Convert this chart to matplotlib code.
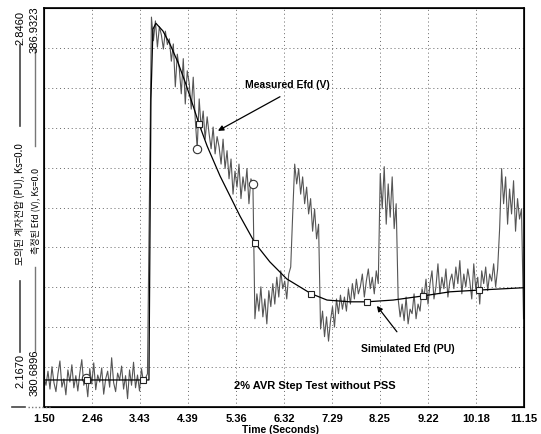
import numpy as np
import matplotlib.pyplot as plt
from matplotlib.lines import Line2D

# simulated Efd (PU)
sim_t = [1.50, 2.364, 3.490, 3.61, 3.65, 3.69, 3.75, 3.89, 4.03, 4.19, 4.35, 4.50,
         4.615, 4.78, 5.04, 5.44, 5.741, 6.04, 6.38, 6.866, 7.19, 7.65, 7.992,
         8.52, 9.117, 9.66, 10.243, 11.15]
sim_pu = [2.213, 2.213, 2.213, 2.213, 2.691, 2.810, 2.820, 2.807, 2.785, 2.754,
          2.717, 2.679, 2.649, 2.611, 2.560, 2.492, 2.446, 2.414, 2.385, 2.360,
          2.349, 2.346, 2.346, 2.349, 2.356, 2.363, 2.366, 2.370]
sim_marks = [1, 2, 12, 16, 19, 22, 24, 26]

# measured Efd (V), one sample every 0.04 s from 1.50 s
meas_t0 = 1.50
meas_dt = 0.04
meas_v = [
    # before the step
    381.16, 381.03, 381.25, 380.97, 381.32, 381.07, 380.93, 381.21, 381.41, 381.00,
    381.13, 380.88, 381.27, 381.08, 381.35, 380.99, 381.18, 380.94, 381.22, 381.43,
    381.03, 381.14, 380.85, 381.29, 381.05, 381.38, 380.96, 381.19, 381.08, 381.30,
    380.89, 381.13, 381.25, 381.00, 381.46, 381.07, 380.93, 381.22, 381.11, 381.33,
    380.97, 381.18, 380.82, 381.27, 381.03, 381.39, 380.99, 381.19, 380.94, 381.29,
    381.07, 381.14,
    # step
    381.21, 383.95,
    386.79, 386.42, 386.73, 386.32, 386.64, 386.51, 386.29, 386.57, 386.36,
    386.45, 386.10, 386.37, 385.70, 386.21, 385.98, 385.59,
    386.14, 385.43, 385.95, 385.75, 385.35, 385.85, 385.20, 384.73,
    385.51, 385.04, 385.32, 384.88, 385.23, 384.96, 384.73, 385.07,
    384.65, 384.92, 384.76, 384.49, 384.88, 384.42, 384.70, 384.26,
    384.57, 384.02, 384.38, 384.13, 384.49, 383.95, 384.29, 384.07, 384.42, 383.87,
    384.26, 384.18,
    # first drop
    382.07, 382.46, 382.19, 382.57, 382.10, 382.38, 381.99, 382.51, 382.26,
    382.62, 382.30, 382.72, 382.41, 382.82, 382.54, 382.66, 382.38, 382.77, 382.88,
    383.71,
    384.49, 384.18, 384.42, 384.02, 384.29, 383.87, 384.13, 383.71, 383.95, 383.44,
    383.79, 383.32, 383.55,
    381.91, 382.19, 381.79, 382.10, 381.72, 382.04, 382.26, 381.94, 382.38, 382.15,
    382.44, 382.22,
    382.41, 382.19, 382.54, 382.30, 382.62, 382.38, 382.69, 382.46, 382.57, 382.77,
    382.41, 382.66, 382.85, 382.54, 382.72, 382.46, 382.82, 382.62,
    384.34, 383.79, 384.45, 383.55, 384.18, 383.66, 384.29, 383.48, 383.87,
    382.38, 382.10, 382.30, 382.04, 382.41, 381.99, 382.22, 382.15, 382.46, 382.07,
    382.30, 382.19, 382.54,
    382.41, 382.69, 382.30, 382.62, 382.82, 382.38, 382.57, 382.93, 382.46, 382.72,
    382.54, 382.85, 382.41, 382.66, 382.77,
    382.54, 382.88, 382.62, 382.98, 382.46, 382.77, 382.57, 382.85, 382.66, 382.38,
    382.93, 382.54, 382.72, 382.30, 382.82, 382.62, 382.88, 382.51, 382.77, 382.66,
    382.93, 382.57, 382.85,
    383.48,
    384.42, 383.87, 384.29, 383.55, 384.10, 383.71, 384.23, 383.44, 383.95, 383.63,
    383.79, 382.07,
]
meas_marks = [21, 77, 105]

pu_lim = (2.1670, 2.8460)
v_lim = (380.6896, 386.9323)
t_lim = (1.50, 11.15)
t_labels = ["1.50", "2.46", "3.43", "4.39", "5.36", "6.32", "7.29", "8.25",
            "9.22", "10.18", "11.15"]

LAT = ['Liberation Sans Narrow', 'Liberation Sans', 'DejaVu Sans']
BOLD = ['Liberation Sans', 'DejaVu Sans']
KOR = ['Noto Sans CJK KR', 'DejaVu Sans']

meas_t = meas_t0 + meas_dt * np.arange(len(meas_v))

fig = plt.figure(figsize=(5.41, 4.35), dpi=100)
W, H = 541.0, 435.0
ax = fig.add_axes([44 / W, 1 - 408 / H, 480 / W, 399 / H])

# measured trace on the volt scale
ax.plot(meas_t, meas_v, color='#555555', lw=0.8, marker='o', ms=6,
        mfc='white', mec='#333333', mew=0.8, markevery=meas_marks)
ax.set_xlim(t_lim)
ax.set_ylim(v_lim)
ax.set_xticks(np.linspace(t_lim[0], t_lim[1], 11))
ax.set_xticklabels(t_labels, family=LAT, fontsize=8, fontweight='bold')
ax.set_yticks(np.linspace(v_lim[0], v_lim[1], 11))
ax.set_yticklabels([])
ax.tick_params(length=0, pad=4)
ax.grid(True, color='#666666', lw=0.7, ls=(0, (1, 3)))
for s in ax.spines.values():
    s.set_linewidth(1.2)
    s.set_color('black')

# simulated trace on the per-unit scale
ax2 = ax.twinx()
ax2.plot(sim_t, sim_pu, color='black', lw=0.9, marker='s', ms=5,
         mfc='white', mec='#222222', mew=0.8, markevery=sim_marks)
ax2.set_ylim(pu_lim)
ax2.set_yticks([])
ax2.set_xlim(t_lim)

ax2.text(6.385, 2.717, "Measured Efd (V)", family=BOLD, fontsize=7.5,
         fontweight='bold', ha='center', va='center')
ax2.annotate('', xy=(4.997, 2.637), xytext=(6.244, 2.695),
             arrowprops=dict(arrowstyle='-|>', color='black', lw=0.9,
                             mutation_scale=8, shrinkA=0, shrinkB=0))
ax2.text(8.817, 2.267, "Simulated Efd (PU)", family=BOLD, fontsize=7.5,
         fontweight='bold', ha='center', va='center')
ax2.annotate('', xy=(8.193, 2.339), xytext=(8.595, 2.295),
             arrowprops=dict(arrowstyle='-|>', color='black', lw=0.9,
                             mutation_scale=8, shrinkA=0, shrinkB=0))
ax2.text(6.947, 2.204, "2% AVR Step Test without PSS", family=BOLD,
         fontsize=8, fontweight='bold', ha='center', va='center')

fig.text(280 / W, 1 - 430 / H, "Time (Seconds)", family=BOLD, fontsize=7.5,
         fontweight='bold', ha='center', va='center')

# left side scale captions
def vtext(px, py, s, fam, size):
    fig.text(px / W, 1 - py / H, s, family=fam, fontsize=size, rotation=90,
             ha='center', va='center')

def vline(px, y0, y1, color, lw, ls='-'):
    fig.add_artist(Line2D([px / W, px / W], [1 - y0 / H, 1 - y1 / H],
                          transform=fig.transFigure, color=color, lw=lw, ls=ls))

vtext(20, 28, "2.8460", LAT, 8)
vline(20, 46, 127, '#444444', 1.2)
vtext(20, 204, "모의된 계자전압 (PU), Ks=0.0", KOR, 7)
vline(20, 282, 353, '#444444', 1.2)
vtext(20, 371, "2.1670", LAT, 8)

vtext(35, 30, "386.9323", LAT, 8)
vline(35, 50, 147, '#777777', 1.0)
vtext(35, 211, "측정된 Efd (V), Ks=0.0", KOR, 6.5)
vline(35, 268, 352, '#777777', 1.0)
vtext(35, 373, "380.6896", LAT, 8)

fig.add_artist(Line2D([12 / W, 25 / W], [1 - 408 / H, 1 - 408 / H],
                      transform=fig.transFigure, color='#444444', lw=1.2))
fig.add_artist(Line2D([28 / W, 50 / W], [1 - 408 / H, 1 - 408 / H],
                      transform=fig.transFigure, color='#777777', lw=1.0,
                      ls=(0, (1, 1.5))))

fig.savefig('out.png', dpi=100)
